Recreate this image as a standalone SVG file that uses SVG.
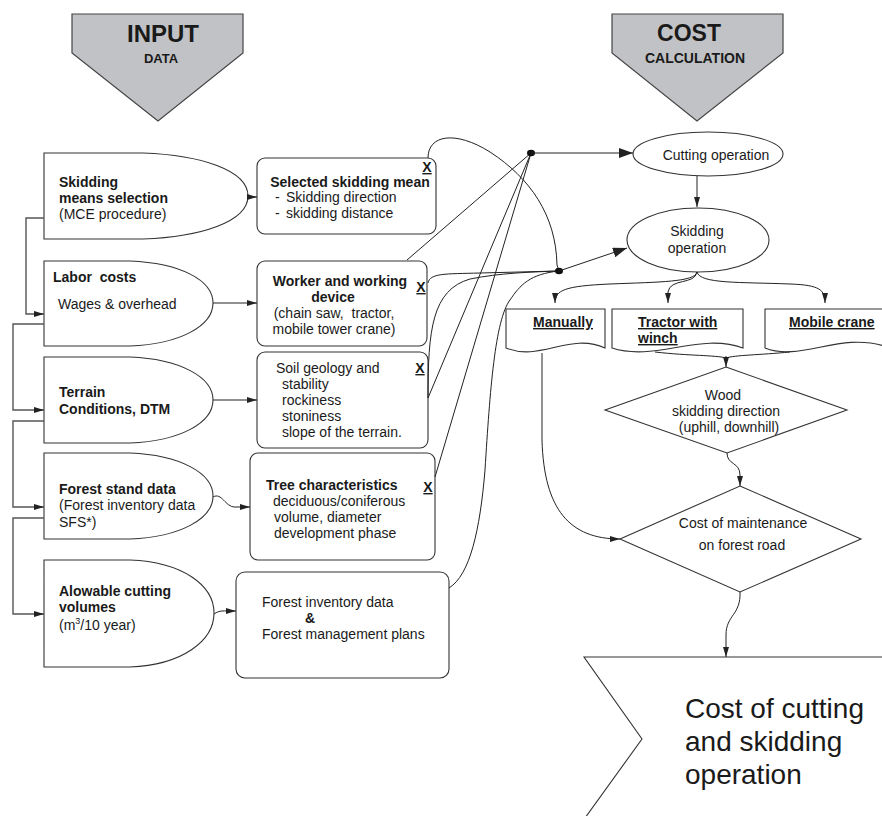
<svg xmlns="http://www.w3.org/2000/svg" width="882" height="816" viewBox="0 0 882 816">
<defs>
<style>
text{font-family:"Liberation Sans",Arial,sans-serif;font-size:14px;fill:#1a1a1a}
.b{font-weight:bold}
.m{text-anchor:middle}
.u{text-decoration:underline;font-weight:bold}
.sh{fill:#fff;stroke:#333;stroke-width:1.1}
.hd{fill:#c1c2c5;stroke:#444;stroke-width:1.2}
.c{fill:none;stroke:#222;stroke-width:1}
.g{fill:none;stroke:#555;stroke-width:1.4}
.big{font-size:28px}
</style>
<marker id="a" viewBox="0 0 10 6" refX="10" refY="3" markerWidth="10" markerHeight="6" orient="auto" markerUnits="userSpaceOnUse"><path d="M0,0 L10,3 L0,6 Z" fill="#222"/></marker>
<marker id="ab" viewBox="0 0 14 10" refX="14" refY="5" markerWidth="14" markerHeight="10" orient="auto" markerUnits="userSpaceOnUse"><path d="M0,0 L14,5 L0,10 Z" fill="#222"/></marker>
</defs>
<rect width="882" height="816" fill="#fff"/>

<g id="input-header">
<path class="hd" d="M72,14 H243 V53 L158,121 L72,53 Z"/>
<text class="b m" x="163" y="42" style="font-size:24px">INPUT</text>
<text class="b m" x="161" y="63" style="font-size:13px">DATA</text>
</g>
<g id="cost-header">
<path class="hd" d="M612,14 H783 V53 L697,121 L612,53 Z"/>
<text class="b m" x="689" y="41" style="font-size:23px">COST</text>
<text class="b m" x="695" y="63">CALCULATION</text>
</g>

<g id="n-skidding-means">
<path class="sh" d="M44,153 H143 C200,155 248,170 248,196 C248,222 200,237 143,239 H44 Z"/>
<text class="b" x="59" y="187">Skidding</text>
<text class="b" x="59" y="203">means selection</text>
<text x="59" y="219">(MCE procedure)</text>
</g>
<g id="n-labor">
<path class="sh" d="M44,261 H130 C180,263 213,280 213,303 C213,326 180,344 130,346 H44 Z"/>
<text class="b" x="53" y="282">Labor&#160; costs</text>
<text x="58" y="309">Wages &amp; overhead</text>
</g>
<g id="n-terrain">
<path class="sh" d="M44,357 H130 C180,359 213,377 213,400 C213,423 180,441 130,443 H44 Z"/>
<text class="b" x="59" y="397">Terrain</text>
<text class="b" x="59" y="414">Conditions, DTM</text>
</g>
<g id="n-forest-stand">
<path class="sh" d="M44,453 H130 C180,455 213,473 213,496 C213,519 180,537 130,539 H44 Z"/>
<text class="b" x="59" y="494">Forest stand data</text>
<text x="59" y="510">(Forest inventory data</text>
<text x="59" y="527">SFS*)</text>
</g>
<g id="n-allowable">
<path class="sh" d="M44,560 H130 C182,562 214,585 214,613 C214,641 182,665 130,667 H44 Z"/>
<text class="b" x="59" y="596">Alowable cutting</text>
<text class="b" x="59" y="612">volumes</text>
<text x="59" y="630">(m<tspan dy="-6" style="font-size:9px">3</tspan><tspan dy="6">/10 year)</tspan></text>
</g>

<g id="b-selected">
<rect class="sh" x="257" y="158" width="179" height="76" rx="8"/>
<text class="u m" x="427" y="172">X</text>
<text class="b m" x="350" y="187">Selected skidding mean</text>
<text x="275" y="202">-<tspan x="286">Skidding direction</tspan></text>
<text x="275" y="218">-<tspan x="286">skidding distance</tspan></text>
</g>
<g id="b-worker">
<rect class="sh" x="257" y="261" width="170" height="85" rx="8"/>
<text class="u m" x="421" y="292">X</text>
<text class="b m" x="340" y="286">Worker and working</text>
<text class="b m" x="333" y="302">device</text>
<text class="m" x="334" y="318">(chain saw,&#160; tractor,</text>
<text class="m" x="334" y="334">mobile tower crane)</text>
</g>
<g id="b-soil">
<rect class="sh" x="257" y="352" width="171" height="96" rx="8"/>
<text class="u m" x="420" y="373">X</text>
<text x="276" y="373">Soil geology and</text>
<text x="282" y="389">stability</text>
<text x="282" y="405">rockiness</text>
<text x="282" y="421">stoniness</text>
<text x="282" y="437">slope of the terrain.</text>
</g>
<g id="b-tree">
<rect class="sh" x="250" y="453" width="185" height="107" rx="8"/>
<text class="u m" x="428" y="492">X</text>
<text class="b" x="266" y="490">Tree characteristics</text>
<text x="273" y="506">deciduous/coniferous</text>
<text x="274" y="522">volume, diameter</text>
<text x="274" y="538">development phase</text>
</g>
<g id="b-inventory">
<rect class="sh" x="236" y="572" width="213" height="106" rx="9"/>
<text x="262" y="607">Forest inventory data</text>
<text class="b m" x="310" y="623">&amp;</text>
<text x="262" y="639">Forest management plans</text>
</g>

<g id="e-cutting">
<ellipse class="sh" cx="708" cy="154" rx="75" ry="22"/>
<text class="m" x="716" y="160">Cutting operation</text>
</g>
<g id="e-skidding">
<ellipse class="sh" cx="698" cy="240" rx="71" ry="32"/>
<text class="m" x="697" y="236">Skidding</text>
<text class="m" x="697" y="253">operation</text>
</g>

<g id="d-manually">
<path class="sh" d="M506,309 H605 V348 C570,332 540,362 506,348 Z"/>
<text class="u m" x="563" y="327">Manually</text>
</g>
<g id="d-tractor">
<path class="sh" d="M612,309 H743 V348 C700,332 655,362 612,348 Z"/>
<text class="u" x="638" y="327">Tractor with</text>
<text class="u" x="638" y="343">winch</text>
</g>
<g id="d-crane">
<path class="sh" d="M765,309 H884 V346 C840,332 800,362 765,348 Z"/>
<text class="u" x="789" y="327">Mobile crane</text>
</g>

<g id="q-wood">
<path class="sh" d="M726,367 L847,410 L727,453 L605,410 Z"/>
<text class="m" x="723" y="400">Wood</text>
<text class="m" x="726" y="416">skidding direction</text>
<text class="m" x="729" y="432">(uphill, downhill)</text>
</g>
<g id="q-cost">
<path class="sh" d="M740,486 L861,539 L740,592 L620,539 Z"/>
<text class="m" x="743" y="528">Cost of maintenance</text>
<text class="m" x="742" y="550">on forest road</text>
</g>

<g id="f-result">
<path class="sh" d="M884,657 H584 L642,739 L585,818"/>
<text class="big" x="685" y="718">Cost of cutting</text>
<text class="big" x="685" y="751">and skidding</text>
<text class="big" x="685" y="784">operation</text>
</g>

<g id="connectors">
<path class="g" d="M44,218 H26 V314 H44" marker-end="url(#a)"/>
<path class="g" d="M44,324 H13 V410 H44" marker-end="url(#a)"/>
<path class="g" d="M44,421 H13 V507 H44" marker-end="url(#a)"/>
<path class="g" d="M44,518 H13 V614 H44" marker-end="url(#a)"/>

<path class="c" d="M248,197 H257" marker-end="url(#a)"/>
<path class="c" d="M213,303 H257" marker-end="url(#a)"/>
<path class="c" d="M213,400 H257" marker-end="url(#a)"/>
<path class="c" d="M213,497 C222,492 225,507 235,507 L250,507" marker-end="url(#a)"/>
<path class="c" d="M214,614 C220,610 222,611 236,611" marker-end="url(#a)"/>

<path class="c" d="M407,260 L531,153"/>
<path class="c" d="M428,398 L531,153"/>
<path class="c" d="M435,477 L531,153"/>
<path class="c" d="M428,158 C428,135 455,130 490,152 C530,178 556,215 557,265 L559,271"/>
<path class="c" d="M428,283 C430,273 445,274 480,273 L559,271"/>
<path class="c" d="M428,398 C428,330 432,290 470,279 C500,273 530,272 559,271"/>
<path class="c" d="M449,588 C470,575 480,530 485,470 C490,390 495,320 510,300 C520,285 530,274 559,271"/>
<ellipse cx="531" cy="153" rx="4" ry="3.2" fill="#111"/>
<ellipse cx="559" cy="271" rx="4" ry="3.2" fill="#111"/>
<path class="c" d="M531,153 H633" marker-end="url(#ab)"/>
<path class="c" d="M559,271 L627,248" marker-end="url(#ab)"/>
<path class="c" d="M697,176 V207" marker-end="url(#a)"/>

<path class="c" d="M697,272 C695,282 660,282 610,284 C565,286 555,290 555,303" marker-end="url(#a)"/>
<path class="c" d="M697,272 C695,285 670,278 668,292 L668,303" marker-end="url(#a)"/>
<path class="c" d="M697,272 C700,284 740,282 790,284 C820,285 825,290 825,303" marker-end="url(#a)"/>

<path class="c" d="M655,352 C690,356 715,355 726,358"/>
<path class="c" d="M790,352 C760,355 735,355 726,358"/>
<path class="c" d="M726,356 V367" marker-end="url(#a)"/>
<path class="c" d="M542,353 V440 C544,510 570,539 620,539" marker-end="url(#a)"/>
<path class="c" d="M727,453 C727,465 740,462 740,475 L740,486" marker-end="url(#a)"/>
<path class="c" d="M740,592 C741,615 726,615 726,635 L726,657" marker-end="url(#a)"/>
</g>
</svg>
